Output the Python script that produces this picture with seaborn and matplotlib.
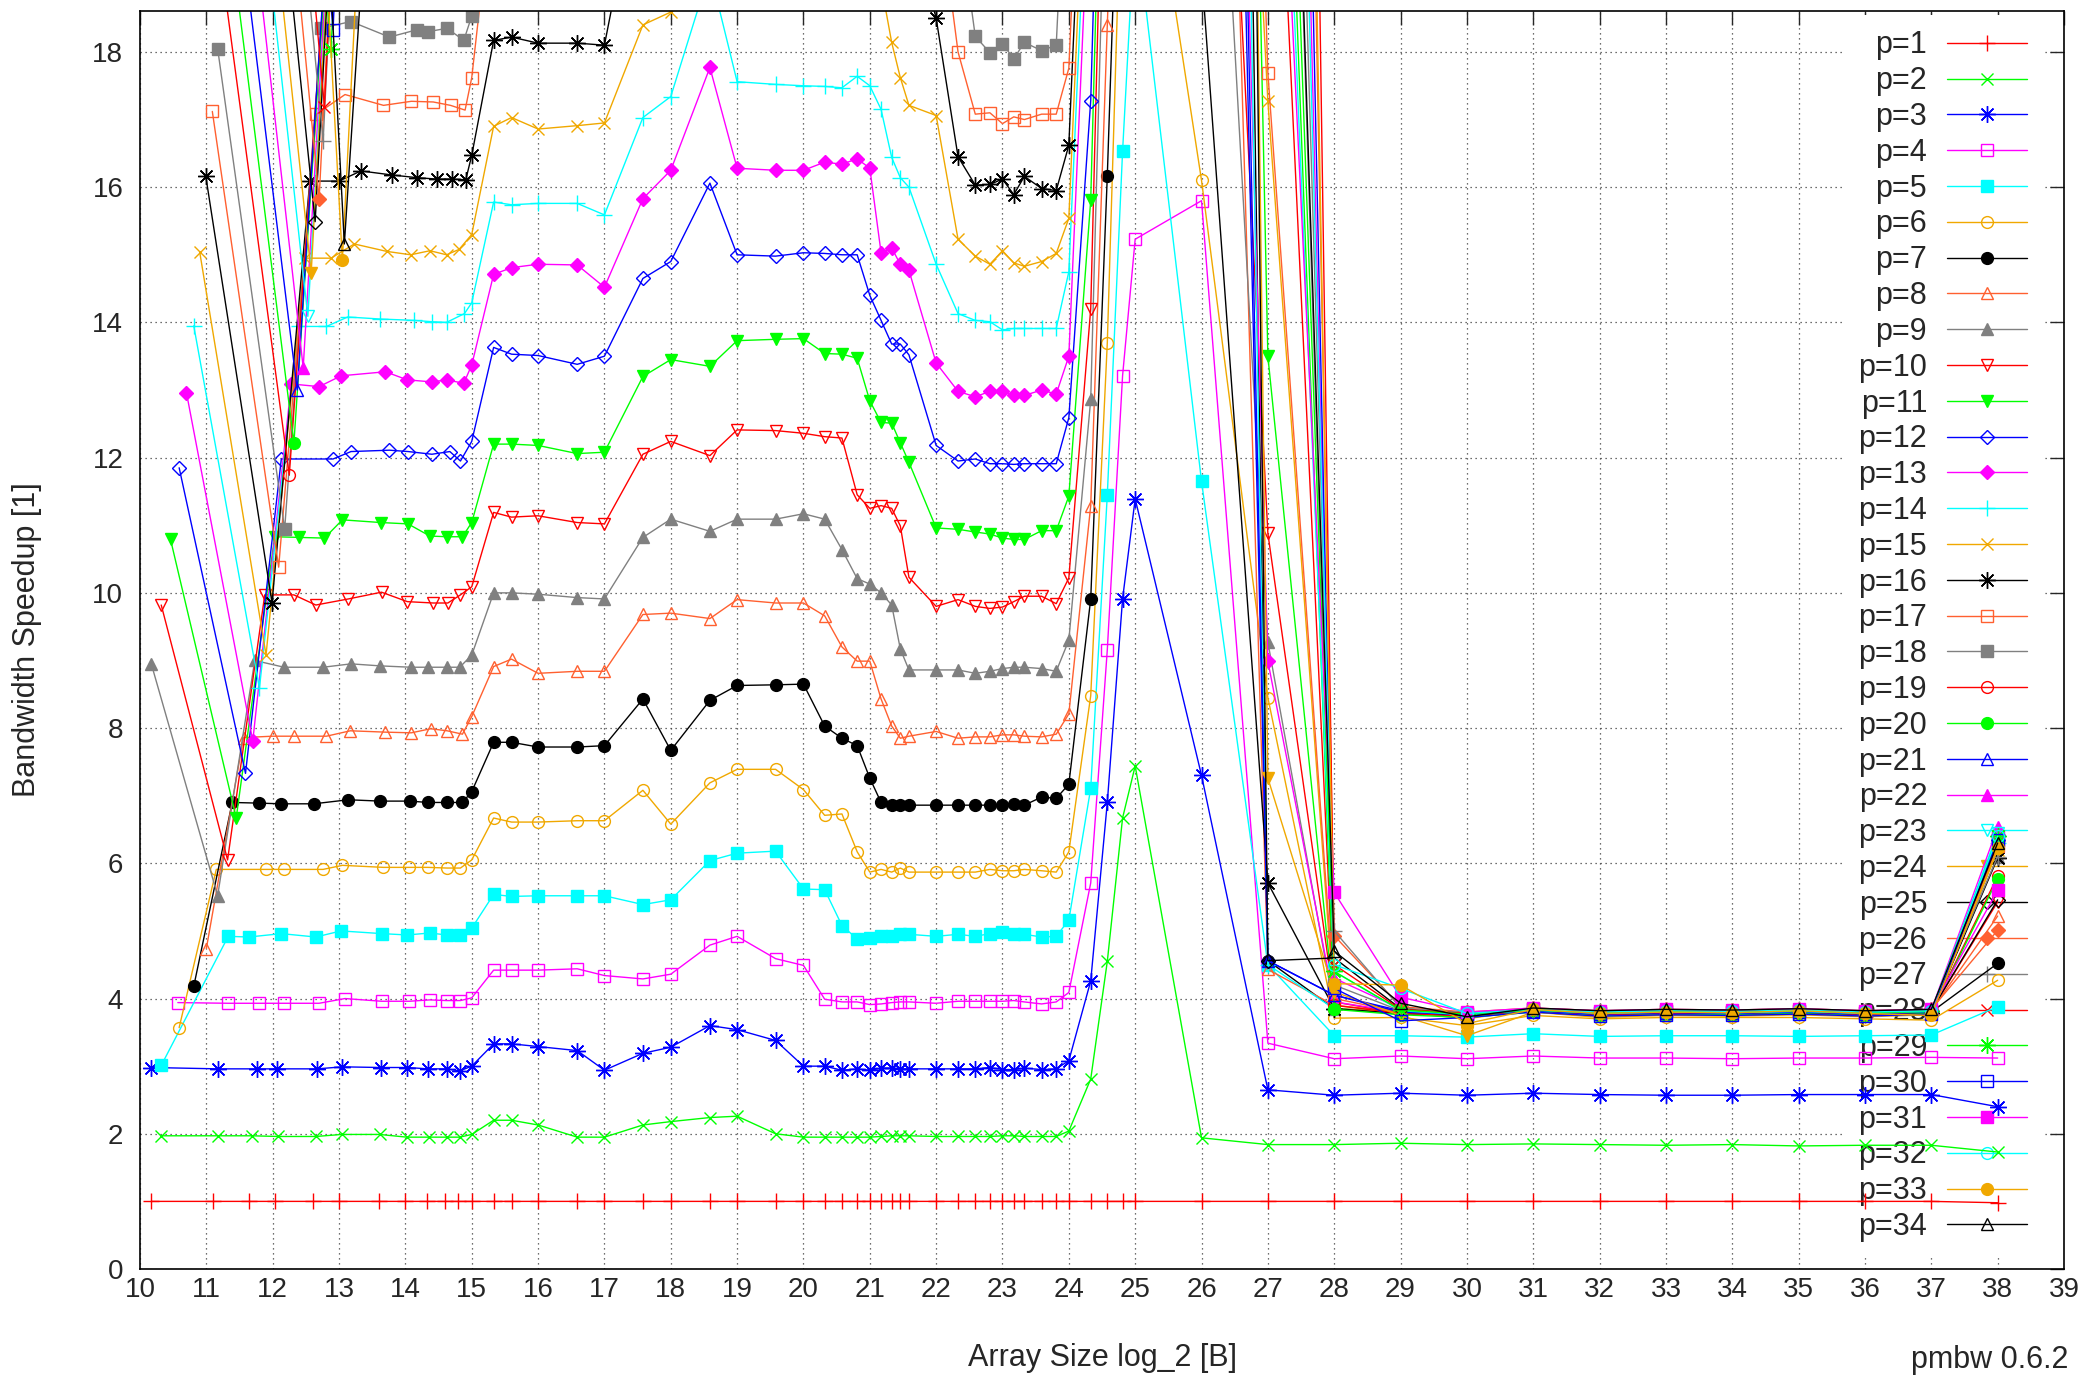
import numpy as np
import pandas as pd
import matplotlib
matplotlib.use('Agg')
import matplotlib.pyplot as plt
import seaborn as sns

# sizes (log2 bytes) shared by every run from 2^15 upward
size_tail = [15.0, 15.33, 15.6, 16.0, 16.59, 17.0, 17.58, 18.0, 18.59, 19.0,
             19.58, 20.0, 20.32, 20.58, 20.81, 21.0, 21.17, 21.33, 21.46, 21.59,
             22.0, 22.33, 22.59, 22.81, 23.0, 23.17, 23.33, 23.59, 23.81, 24.0,
             24.33, 24.58, 24.81, 25.0, 26, 27, 28, 29, 30, 31,
             32, 33, 34, 35, 36, 37, 38]
# for p >= 19 everything between the first few sizes and 2^26 is above the plot
size_tail_hi = [26, 27, 28, 29, 30, 31, 32, 33, 34, 35, 36, 37, 38]

# --- p = 1 .. 18: small sizes (head) + speedups on size_tail ---
hx01 = [10.17, 11.1, 11.65, 12.04, 12.61, 13.0, 13.6, 14.0, 14.33, 14.6, 14.8]
hy01 = [1.0, 1.0, 1.0, 1.0, 1.0, 1.0, 1.0, 1.0, 1.0, 1.0, 1.0]
ty01 = [1.0, 1.0, 1.0, 1.0, 1.0, 1.0, 1.0, 1.0, 1.0, 1.0,
        1.0, 1.0, 1.0, 1.0, 1.0, 1.0, 1.0, 1.0, 1.0, 1.0,
        1.0, 1.0, 1.0, 1.0, 1.0, 1.0, 1.0, 1.0, 1.0, 1.0,
        1.0, 1.0, 1.0, 1.0, 1.0, 1.0, 1.0, 1.0, 1.0, 1.0,
        1.0, 1.0, 1.0, 1.0, 1.0, 1.0, 0.98]

hx02 = [10.32, 11.17, 11.69, 12.08, 12.65, 13.04, 13.61, 14.02, 14.35, 14.62, 14.82]
hy02 = [1.97, 1.97, 1.97, 1.96, 1.96, 1.99, 1.99, 1.95, 1.95, 1.95, 1.95]
ty02 = [1.99, 2.20, 2.20, 2.13, 1.95, 1.95, 2.13, 2.18, 2.24, 2.26,
        2.00, 1.95, 1.95, 1.95, 1.95, 1.95, 1.96, 1.97, 1.97, 1.97,
        1.96, 1.96, 1.96, 1.96, 1.97, 1.97, 1.96, 1.96, 1.96, 2.04,
        2.81, 4.55, 6.67, 7.44, 1.94, 1.84, 1.84, 1.86, 1.84, 1.85,
        1.84, 1.83, 1.84, 1.82, 1.83, 1.83, 1.73]

hx03 = [10.17, 11.18, 11.76, 12.06, 12.67, 13.05, 13.63, 14.03, 14.34, 14.62, 14.82]
hy03 = [2.98, 2.96, 2.96, 2.96, 2.96, 2.99, 2.98, 2.98, 2.96, 2.96, 2.93]
ty03 = [3.00, 3.33, 3.33, 3.29, 3.23, 2.94, 3.19, 3.28, 3.60, 3.54,
        3.38, 3.00, 3.00, 2.94, 2.96, 2.94, 2.97, 2.97, 2.96, 2.96,
        2.96, 2.96, 2.96, 2.98, 2.95, 2.95, 2.97, 2.95, 2.96, 3.08,
        4.26, 6.90, 9.91, 11.39, 7.30, 2.65, 2.57, 2.60, 2.57, 2.60,
        2.58, 2.57, 2.57, 2.58, 2.58, 2.58, 2.40]

hx04 = [10.57, 11.33, 11.8, 12.17, 12.7, 13.09, 13.64, 14.06, 14.37, 14.62, 14.83]
hy04 = [3.94, 3.93, 3.93, 3.93, 3.93, 4.0, 3.96, 3.96, 3.98, 3.97, 3.97]
ty04 = [4.01, 4.42, 4.42, 4.42, 4.44, 4.34, 4.29, 4.36, 4.79, 4.92,
        4.59, 4.49, 3.99, 3.95, 3.95, 3.91, 3.92, 3.94, 3.95, 3.95,
        3.93, 3.96, 3.96, 3.96, 3.96, 3.97, 3.95, 3.92, 3.95, 4.09,
        5.71, 9.16, 13.21, 15.23, 15.80, 3.34, 3.11, 3.15, 3.11, 3.15,
        3.12, 3.12, 3.11, 3.12, 3.12, 3.13, 3.12]

hx05 = [10.32, 11.33, 11.64, 12.13, 12.65, 13.03, 13.65, 14.03, 14.37, 14.62, 14.82]
hy05 = [3.01, 4.92, 4.91, 4.96, 4.91, 5.0, 4.96, 4.94, 4.97, 4.94, 4.94]
ty05 = [5.04, 5.54, 5.51, 5.52, 5.52, 5.52, 5.39, 5.46, 6.04, 6.15,
        6.18, 5.62, 5.61, 5.08, 4.88, 4.90, 4.92, 4.92, 4.95, 4.95,
        4.92, 4.95, 4.92, 4.96, 4.98, 4.95, 4.95, 4.91, 4.92, 5.16,
        7.11, 11.45, 16.53, 20.0, 11.65, 4.50, 3.45, 3.45, 3.43, 3.48,
        3.44, 3.45, 3.45, 3.44, 3.45, 3.46, 3.88]

hx06 = [10.59, 11.15, 11.9, 12.17, 12.76, 13.05, 13.67, 14.06, 14.34, 14.63, 14.83]
hy06 = [3.57, 5.91, 5.91, 5.91, 5.91, 5.97, 5.94, 5.94, 5.94, 5.93, 5.93]
ty06 = [6.05, 6.67, 6.61, 6.61, 6.63, 6.63, 7.08, 6.58, 7.19, 7.39,
        7.39, 7.09, 6.71, 6.73, 6.17, 5.87, 5.91, 5.87, 5.93, 5.87,
        5.87, 5.87, 5.87, 5.91, 5.89, 5.89, 5.91, 5.89, 5.87, 6.17,
        8.48, 13.70, 21.2, 22.5, 16.10, 8.45, 3.71, 3.72, 3.60, 3.75,
        3.70, 3.72, 3.72, 3.72, 3.70, 3.68, 4.27]

hx07 = [10.81, 11.39, 11.8, 12.13, 12.62, 13.14, 13.62, 14.07, 14.34, 14.62, 14.86]
hy07 = [4.18, 6.9, 6.89, 6.88, 6.88, 6.94, 6.92, 6.92, 6.9, 6.9, 6.9]
ty07 = [7.06, 7.79, 7.79, 7.72, 7.72, 7.74, 8.43, 7.67, 8.41, 8.63,
        8.64, 8.65, 8.03, 7.85, 7.74, 7.26, 6.90, 6.86, 6.86, 6.86,
        6.86, 6.86, 6.86, 6.86, 6.86, 6.88, 6.86, 6.98, 6.96, 7.17,
        9.91, 16.17, 23.0, 26.0, 68.0, 4.56, 3.85, 3.78, 3.75, 3.82,
        3.76, 3.78, 3.78, 3.79, 3.76, 3.80, 4.52]

hx08 = [11.0, 11.56, 12.0, 12.32, 12.81, 13.17, 13.7, 14.09, 14.38, 14.63, 14.86]
hy08 = [4.74, 7.86, 7.88, 7.88, 7.88, 7.96, 7.94, 7.93, 7.99, 7.96, 7.91]
ty08 = [8.17, 8.91, 9.02, 8.81, 8.84, 8.84, 9.68, 9.70, 9.62, 9.90,
        9.85, 9.85, 9.66, 9.20, 8.99, 8.99, 8.43, 8.03, 7.85, 7.88,
        7.95, 7.85, 7.87, 7.87, 7.90, 7.90, 7.88, 7.87, 7.91, 8.21,
        11.29, 18.40, 25.0, 28.0, 38.0, 4.43, 3.90, 3.80, 3.78, 3.84,
        3.80, 3.82, 3.80, 3.83, 3.80, 3.82, 5.22]

hx09 = [10.17, 11.17, 11.73, 12.17, 12.76, 13.18, 13.62, 14.08, 14.34, 14.62, 14.82]
hy09 = [8.95, 5.52, 9.0, 8.9, 8.9, 8.95, 8.92, 8.9, 8.9, 8.9, 8.9]
ty09 = [9.08, 10.00, 10.00, 9.98, 9.93, 9.91, 10.82, 11.09, 10.91, 11.09,
        11.09, 11.17, 11.09, 10.64, 10.21, 10.13, 10.00, 9.82, 9.17, 8.86,
        8.86, 8.86, 8.81, 8.84, 8.88, 8.90, 8.90, 8.88, 8.84, 9.30,
        12.86, 22.0, 27.0, 30.0, 26.9, 9.27, 3.85, 3.80, 3.76, 3.83,
        3.78, 3.80, 3.79, 3.80, 3.78, 3.80, 6.10]

hx10 = [10.32, 11.32, 11.88, 12.32, 12.65, 13.14, 13.64, 14.03, 14.42, 14.64, 14.83]
hy10 = [9.82, 6.05, 9.97, 9.97, 9.82, 9.91, 10.01, 9.87, 9.85, 9.85, 9.97]
ty10 = [10.09, 11.19, 11.12, 11.14, 11.04, 11.02, 12.05, 12.24, 12.03, 12.41,
        12.40, 12.36, 12.31, 12.29, 11.45, 11.25, 11.29, 11.25, 10.99, 10.23,
        9.80, 9.90, 9.80, 9.77, 9.79, 9.87, 9.95, 9.95, 9.84, 10.22,
        14.20, 24.0, 28.0, 32.0, 30.2, 10.88, 3.95, 3.78, 3.77, 3.85,
        3.78, 3.80, 3.80, 3.82, 3.80, 3.82, 5.43]

hx11 = [10.46, 11.45, 12.03, 12.4, 12.78, 13.05, 13.63, 14.04, 14.37, 14.63, 14.86]
hy11 = [10.79, 6.67, 10.83, 10.82, 10.81, 11.08, 11.04, 11.02, 10.84, 10.83, 10.83]
ty11 = [11.04, 12.20, 12.20, 12.18, 12.06, 12.08, 13.20, 13.45, 13.35, 13.73,
        13.75, 13.76, 13.54, 13.53, 13.47, 12.84, 12.52, 12.51, 12.22, 11.93,
        10.96, 10.94, 10.90, 10.87, 10.81, 10.79, 10.79, 10.92, 10.92, 11.43,
        15.81, 25.0, 30.0, 34.0, 60.0, 13.50, 3.85, 3.80, 3.78, 3.84,
        3.80, 3.81, 3.80, 3.82, 3.79, 3.81, 6.30]

hx12 = [10.59, 11.59, 12.13, 12.91, 13.18, 13.76, 14.04, 14.4, 14.67, 14.83]
hy12 = [11.85, 7.33, 11.98, 11.98, 12.09, 12.11, 12.09, 12.05, 12.09, 11.95]
ty12 = [12.24, 13.63, 13.53, 13.51, 13.38, 13.50, 14.65, 14.90, 16.06, 15.00,
        14.98, 15.03, 15.02, 15.00, 15.00, 14.40, 14.03, 13.68, 13.68, 13.52,
        12.18, 11.95, 11.98, 11.91, 11.91, 11.90, 11.91, 11.91, 11.91, 12.59,
        17.28, 26.0, 31.0, 35.0, 47.1, 4.56, 4.05, 3.82, 3.76, 3.85,
        3.78, 3.80, 3.79, 3.81, 3.78, 3.80, 6.35]

hx13 = [10.7, 11.7, 12.28, 12.7, 13.03, 13.7, 14.03, 14.4, 14.62, 14.88]
hy13 = [12.96, 7.81, 13.09, 13.05, 13.21, 13.27, 13.15, 13.12, 13.15, 13.1]
ty13 = [13.37, 14.71, 14.81, 14.86, 14.85, 14.52, 15.83, 16.25, 17.77, 16.28,
        16.25, 16.25, 16.37, 16.34, 16.42, 16.28, 15.03, 15.10, 14.86, 14.77,
        13.40, 12.98, 12.90, 12.98, 12.98, 12.92, 12.92, 13.00, 12.94, 13.50,
        21.0, 28.0, 33.0, 37.0, 43.3, 8.99, 3.95, 3.80, 3.77, 3.85,
        3.79, 3.80, 3.80, 3.82, 3.79, 3.81, 6.42]

hx14 = [10.81, 11.8, 12.39, 12.81, 13.13, 13.62, 14.13, 14.4, 14.62, 14.89]
hy14 = [13.95, 8.59, 13.94, 13.94, 14.08, 14.05, 14.03, 14.01, 14.0, 14.13]
ty14 = [14.29, 15.78, 15.74, 15.76, 15.76, 15.59, 17.03, 17.34, 19.20, 17.56,
        17.52, 17.50, 17.49, 17.47, 17.64, 17.50, 17.15, 16.44, 16.14, 16.00,
        14.86, 14.13, 14.03, 14.01, 13.89, 13.91, 13.91, 13.91, 13.91, 14.75,
        22.0, 30.0, 35.0, 39.0, 60.9, 4.50, 3.85, 3.78, 3.76, 3.84,
        3.78, 3.80, 3.79, 3.81, 3.78, 3.80, 6.30]

hx15 = [10.9, 11.9, 12.48, 12.88, 13.23, 13.72, 14.08, 14.37, 14.62, 14.81]
hy15 = [15.04, 9.08, 14.95, 14.95, 15.16, 15.05, 15.0, 15.06, 15.0, 15.08]
ty15 = [15.30, 16.90, 17.03, 16.86, 16.91, 16.95, 18.40, 18.59, 20.5, 20.2,
        20.2, 20.2, 20.1, 20.0, 20.1, 19.8, 19.0, 18.14, 17.62, 17.21,
        17.06, 15.23, 14.98, 14.86, 15.06, 14.88, 14.83, 14.90, 15.02, 15.54,
        23.0, 31.0, 36.0, 40.0, 36.3, 17.27, 3.85, 3.80, 3.70, 3.84,
        3.78, 3.79, 3.79, 3.80, 3.78, 3.80, 6.20]

hx16 = [10.99, 11.99, 12.56, 13.0, 13.33, 13.8, 14.18, 14.47, 14.7, 14.91]
hy16 = [16.17, 9.85, 16.09, 16.09, 16.24, 16.18, 16.14, 16.12, 16.12, 16.11]
ty16 = [16.47, 18.17, 18.22, 18.13, 18.13, 18.10, 21.0, 22.0, 23.0, 23.0,
        23.0, 23.0, 23.0, 23.0, 23.0, 22.5, 21.5, 21.0, 20.5, 20.0,
        18.50, 16.45, 16.03, 16.04, 16.12, 15.89, 16.16, 15.98, 15.95, 16.62,
        24.0, 32.0, 37.0, 41.0, 19.2, 5.71, 3.85, 3.78, 3.75, 3.83,
        3.77, 3.79, 3.78, 3.80, 3.77, 3.79, 6.08]

hx17 = [11.09, 12.09, 12.66, 13.09, 13.67, 14.09, 14.42, 14.68, 14.9]
hy17 = [17.12, 10.38, 17.08, 17.37, 17.21, 17.27, 17.26, 17.21, 17.14]
ty17 = [17.62, 20.5, 22.0, 22.5, 23.0, 23.0, 23.5, 24.0, 24.0, 24.0,
        24.0, 24.0, 24.0, 24.0, 24.0, 23.5, 23.0, 22.5, 22.0, 21.5,
        20.5, 18.00, 17.08, 17.10, 16.94, 17.04, 17.00, 17.08, 17.08, 17.76,
        25.0, 33.0, 38.0, 42.0, 48.0, 17.69, 4.00, 3.80, 3.77, 3.84,
        3.79, 3.81, 3.80, 3.82, 3.79, 3.81, 6.25]

hx18 = [11.17, 12.18, 12.73, 13.18, 13.76, 14.18, 14.34, 14.63, 14.88]
hy18 = [18.05, 10.94, 18.35, 18.45, 18.22, 18.33, 18.3, 18.35, 18.17]
ty18 = [18.53, 23.0, 23.5, 24.0, 24.0, 24.5, 25.0, 25.0, 25.0, 25.0,
        25.0, 25.0, 25.0, 25.0, 25.0, 24.5, 24.0, 23.5, 23.0, 22.5,
        21.5, 20.10, 18.23, 17.99, 18.12, 17.90, 18.14, 18.02, 18.10, 22.0,
        27.0, 34.0, 39.0, 43.0, 50.0, 35.0, 4.20, 3.82, 3.77, 3.84,
        3.79, 3.81, 3.80, 3.82, 3.79, 3.81, 6.40]

# --- p = 19 .. 34: three small sizes, then speedups on size_tail_hi ---
hx19 = [11.25, 12.25, 12.8];  hy19 = [19.1, 11.74, 19.3]
hx20 = [11.32, 12.32, 12.87]; hy20 = [20.0, 12.22, 20.3]
hx21 = [11.37, 12.37, 12.92]; hy21 = [21.0, 13.0, 21.3]
hx22 = [11.46, 12.46, 13.0];  hy22 = [22.0, 13.33, 22.4]
hx23 = [11.53, 12.53, 13.07]; hy23 = [23.0, 14.09, 23.4]
hx24 = [11.58, 12.58, 13.12]; hy24 = [24.0, 14.73, 24.4]
hx25 = [11.64, 12.64, 13.18]; hy25 = [25.0, 15.49, 25.4]
hx26 = [11.7, 12.7, 13.24];   hy26 = [26.0, 15.83, 26.4]
hx27 = [11.76, 12.76, 13.3];  hy27 = [27.0, 16.68, 27.4]
hx28 = [11.78, 12.78, 13.33]; hy28 = [28.0, 17.19, 28.4]
hx29 = [11.88, 12.88, 13.42]; hy29 = [29.0, 18.05, 29.4]
hx30 = [11.91, 12.91, 13.45]; hy30 = [30.0, 18.33, 30.4]
hx31 = [11.96, 12.96, 13.5];  hy31 = [31.0, 18.9, 31.4]
hx32 = [12.0, 13.0, 13.55];   hy32 = [32.0, 19.5, 32.4]
hx33 = [12.05, 13.05, 13.6];  hy33 = [33.0, 14.92, 25.6]
hx34 = [12.08, 13.08, 13.65]; hy34 = [34.0, 15.16, 23.8]

ty19 = [60, 25, 3.90, 3.78, 3.74, 3.82, 3.76, 3.78, 3.77, 3.80, 3.76, 3.80, 5.81]
ty20 = [55, 30, 3.84, 3.76, 3.72, 3.80, 3.74, 3.76, 3.76, 3.78, 3.74, 3.78, 5.77]
ty21 = [51.4, 4.56, 4.05, 3.80, 3.76, 3.82, 3.77, 3.79, 3.78, 3.80, 3.77, 3.80, 6.35]
ty22 = [70, 45, 4.30, 3.85, 3.78, 3.85, 3.80, 3.82, 3.81, 3.83, 3.80, 3.83, 6.53]
ty23 = [65, 28, 4.40, 3.82, 3.76, 3.83, 3.78, 3.80, 3.79, 3.81, 3.78, 3.81, 6.45]
ty24 = [82.9, 7.26, 4.10, 3.75, 3.45, 3.80, 3.72, 3.75, 3.74, 3.76, 3.73, 3.76, 6.20]
ty25 = [90, 4.56, 4.60, 3.85, 3.78, 3.84, 3.80, 3.82, 3.81, 3.83, 3.80, 3.82, 5.46]
ty26 = [75, 55, 4.93, 3.88, 3.80, 3.86, 3.82, 3.84, 3.83, 3.85, 3.82, 3.84, 5.01]
ty27 = [70, 38, 5.00, 3.86, 3.79, 3.85, 3.81, 3.83, 3.82, 3.84, 3.81, 3.83, 6.10]
ty28 = [80, 70, 4.50, 3.84, 3.78, 3.84, 3.80, 3.82, 3.81, 3.83, 3.80, 3.82, 6.30]
ty29 = [65, 32, 4.40, 3.83, 3.77, 3.83, 3.79, 3.81, 3.80, 3.82, 3.79, 3.81, 6.40]
ty30 = [72, 50, 4.15, 3.67, 3.72, 3.80, 3.74, 3.76, 3.75, 3.77, 3.74, 3.77, 6.35]
ty31 = [60, 26, 5.57, 4.02, 3.80, 3.86, 3.82, 3.84, 3.83, 3.85, 3.82, 3.84, 5.60]
ty32 = [68, 42, 4.50, 4.15, 3.78, 3.84, 3.80, 3.82, 3.81, 3.83, 3.80, 3.82, 6.40]
ty33 = [85, 60, 4.22, 4.20, 3.63, 3.84, 3.78, 3.80, 3.79, 3.82, 3.78, 3.75, 6.22]
ty34 = [62, 35, 4.70, 3.93, 3.73, 3.86, 3.82, 3.84, 3.83, 3.85, 3.82, 3.84, 6.30]

heads_x = [hx01, hx02, hx03, hx04, hx05, hx06, hx07, hx08, hx09, hx10, hx11, hx12,
           hx13, hx14, hx15, hx16, hx17, hx18, hx19, hx20, hx21, hx22, hx23, hx24,
           hx25, hx26, hx27, hx28, hx29, hx30, hx31, hx32, hx33, hx34]
heads_y = [hy01, hy02, hy03, hy04, hy05, hy06, hy07, hy08, hy09, hy10, hy11, hy12,
           hy13, hy14, hy15, hy16, hy17, hy18, hy19, hy20, hy21, hy22, hy23, hy24,
           hy25, hy26, hy27, hy28, hy29, hy30, hy31, hy32, hy33, hy34]
tails_y = [ty01, ty02, ty03, ty04, ty05, ty06, ty07, ty08, ty09, ty10, ty11, ty12,
           ty13, ty14, ty15, ty16, ty17, ty18, ty19, ty20, ty21, ty22, ty23, ty24,
           ty25, ty26, ty27, ty28, ty29, ty30, ty31, ty32, ty33, ty34]

frames = []
for i in range(34):
    tx = size_tail if i < 18 else size_tail_hi
    frames.append(pd.DataFrame({'size': heads_x[i] + tx,
                                'speedup': heads_y[i] + tails_y[i],
                                'p': i + 1}))
df = pd.concat(frames, ignore_index=True)

# gnuplot-like line colours (9) and point types (13)
colors = ['#ff0000', '#00ff00', '#0000ff', '#ff00ff', '#00ffff',
          '#f0a800', '#000000', '#ff6030', '#808080']
points = [('+', True, 11), ('x', True, 9), ((8, 2, 0), True, 12),
          ('s', False, 8), ('s', True, 8), ('o', False, 8.5), ('o', True, 8.5),
          ('^', False, 9), ('^', True, 9), ('v', False, 9), ('v', True, 9),
          ('D', False, 7), ('D', True, 7)]

sns.set_style('white')
plt.rcParams['font.family'] = ['Liberation Sans', 'DejaVu Sans']
plt.rcParams['font.size'] = 20

fig = plt.figure(figsize=(20.9, 13.79), dpi=100)
ax = fig.add_axes([0.06699, 0.07977, 0.92057, 0.91247])

for p in range(1, 35):
    c = colors[(p - 1) % 9]
    m, filled, ms = points[(p - 1) % 13]
    sub = df[df['p'] == p]
    sns.lineplot(data=sub, x='size', y='speedup', ax=ax, color=c, lw=1.0,
                 marker=m, markersize=ms, markeredgecolor=c,
                 markerfacecolor=c if filled else 'none', markeredgewidth=1.0,
                 estimator=None, errorbar=None, sort=False, label=f'p={p}')

ax.set_xlim(10, 39)
ax.set_ylim(0, 18.61)
ax.set_xticks(range(10, 40))
ax.set_yticks(range(0, 19, 2))
ax.set_axisbelow(True)
ax.grid(True, color='0.25', linestyle=(0, (1, 3)), linewidth=0.9)
ax.tick_params(direction='in', length=10, width=1, top=True, right=True,
               labelsize=20)
ax.tick_params(axis='x', pad=6)
ax.tick_params(axis='y', pad=12)
for s in ax.spines.values():
    s.set_linewidth(1.2)
    s.set_color('black')

ax.set_xlabel('Array Size log_2 [B]', fontsize=22)
ax.set_ylabel('Bandwidth Speedup [1]', fontsize=22)
ax.xaxis.set_label_coords(0.5, -0.059)
ax.yaxis.set_label_coords(-0.0509, 0.5)

handles, labels = ax.get_legend_handles_labels()
leg = ax.legend(handles, labels, loc='upper right',
                bbox_to_anchor=(0.9772, 0.9890), bbox_transform=fig.transFigure,
                markerfirst=False, frameon=True, fancybox=False,
                facecolor='white', edgecolor='none', framealpha=1.0,
                fontsize=22, handlelength=2.62, handletextpad=0.65,
                labelspacing=0.19, borderpad=0.5, borderaxespad=0)
leg.set_zorder(1.5)

fig.text(2068 / 2090, 1 - 1360 / 1379, 'pmbw 0.6.2', ha='right', va='center',
         fontsize=22)

fig.savefig('out.png', dpi=100)
